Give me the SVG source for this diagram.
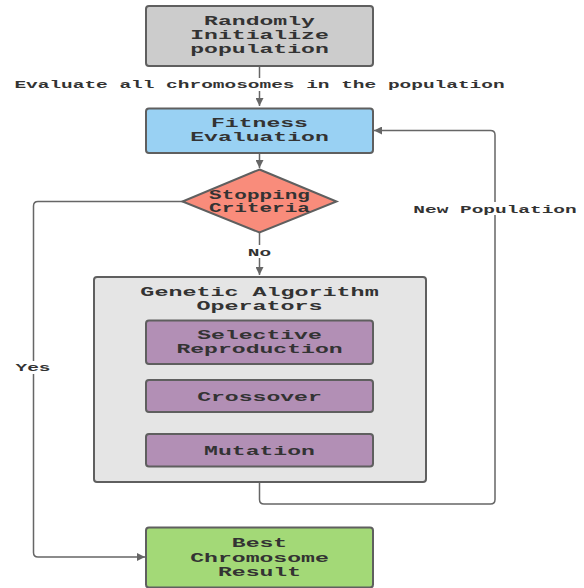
<svg xmlns="http://www.w3.org/2000/svg" width="584" height="588" viewBox="0 0 584 588">
<style>
.box{stroke:#5f5f5f;stroke-width:2}
.t{font-family:"Liberation Mono","Courier New",monospace;font-weight:bold;fill:#333;text-anchor:middle}
.n{font-size:13.2px}
.d{font-size:12px}
.l{font-size:11px}
.c{fill:none;stroke:#666;stroke-width:1.5}
</style>
<defs>
<marker id="ah" viewBox="0 0 10 10" refX="10" refY="5" markerWidth="8" markerHeight="8" markerUnits="userSpaceOnUse" orient="auto">
<path d="M0,0 L10,5 L0,10 z" fill="#666"/>
</marker>
</defs>
<rect width="584" height="588" fill="#fff"/>
<g id="connectors">
<path class="c" d="M259.5,66 V106" marker-end="url(#ah)"/>
<path class="c" d="M259.5,153 V168" marker-end="url(#ah)"/>
<path class="c" d="M259.5,233 V275" marker-end="url(#ah)"/>
<path class="c" d="M183,201.5 H38 Q33.5,201.5 33.5,206 V552.5 Q33.5,557 38,557 H145" marker-end="url(#ah)"/>
<path class="c" d="M259.5,483 V499.5 Q259.5,504 264,504 H490.5 Q495,504 495,499.5 V135 Q495,130.5 490.5,130.5 H374" marker-end="url(#ah)"/>
<rect x="12" y="78" width="498" height="13" fill="#fff"/>
<text class="t l" transform="translate(259.5 88) scale(1.77 1)">Evaluate all chromosomes in the population</text>
<rect x="248" y="245" width="23" height="13" fill="#fff"/>
<text class="t l" transform="translate(259.5 256) scale(1.77 1)">No</text>
<rect x="14" y="361" width="38" height="13" fill="#fff"/>
<text class="t l" transform="translate(33 371) scale(1.77 1)">Yes</text>
<rect x="412" y="202" width="168" height="13" fill="#fff"/>
<text class="t l" transform="translate(495 213) scale(1.77 1)">New Population</text>
</g>
<g id="init">
<rect class="box" x="146" y="6" width="227" height="60" rx="3" fill="#cccccc"/>
<text class="t n" transform="translate(259.5 25) scale(1.75 1)">Randomly</text>
<text class="t n" transform="translate(259.5 39.3) scale(1.75 1)">Initialize</text>
<text class="t n" transform="translate(259.5 53.3) scale(1.75 1)">population</text>
</g>
<g id="fitness">
<rect class="box" x="146" y="108.5" width="227" height="44.5" rx="3" fill="#99d1f3"/>
<text class="t n" transform="translate(259.5 127.3) scale(1.75 1)">Fitness</text>
<text class="t n" transform="translate(259.5 141.3) scale(1.75 1)">Evaluation</text>
</g>
<g id="stopping">
<path class="box" d="M259.5,169.5 L336.5,201.5 L259.5,232.5 L182.5,201.5 Z" fill="#f98c7b"/>
<text class="t d" transform="translate(259.5 199) scale(1.75 1)">Stopping</text>
<text class="t d" transform="translate(259.5 211.7) scale(1.75 1)">Criteria</text>
</g>
<g id="operators">
<rect class="box" x="94" y="277" width="332" height="205" rx="3" fill="#e5e5e5"/>
<text class="t n" transform="translate(259.5 295.5) scale(1.77 1)">Genetic Algorithm</text>
<text class="t n" transform="translate(259.5 309.8) scale(1.77 1)">Operators</text>
</g>
<g id="selective">
<rect class="box" x="146" y="320.5" width="227" height="43.5" rx="3" fill="#b28fb5"/>
<text class="t n" transform="translate(259.5 339) scale(1.75 1)">Selective</text>
<text class="t n" transform="translate(259.5 353.3) scale(1.75 1)">Reproduction</text>
</g>
<g id="crossover">
<rect class="box" x="146" y="380" width="227" height="32" rx="3" fill="#b28fb5"/>
<text class="t n" transform="translate(259.5 401) scale(1.75 1)">Crossover</text>
</g>
<g id="mutation">
<rect class="box" x="146" y="434" width="227" height="32.5" rx="3" fill="#b28fb5"/>
<text class="t n" transform="translate(259.5 455) scale(1.75 1)">Mutation</text>
</g>
<g id="best">
<rect class="box" x="146" y="527.5" width="227" height="60" rx="3" fill="#a3d977"/>
<text class="t n" transform="translate(259.5 547) scale(1.75 1)">Best</text>
<text class="t n" transform="translate(259.5 561.5) scale(1.75 1)">Chromosome</text>
<text class="t n" transform="translate(259.5 576) scale(1.75 1)">Result</text>
</g>
</svg>
